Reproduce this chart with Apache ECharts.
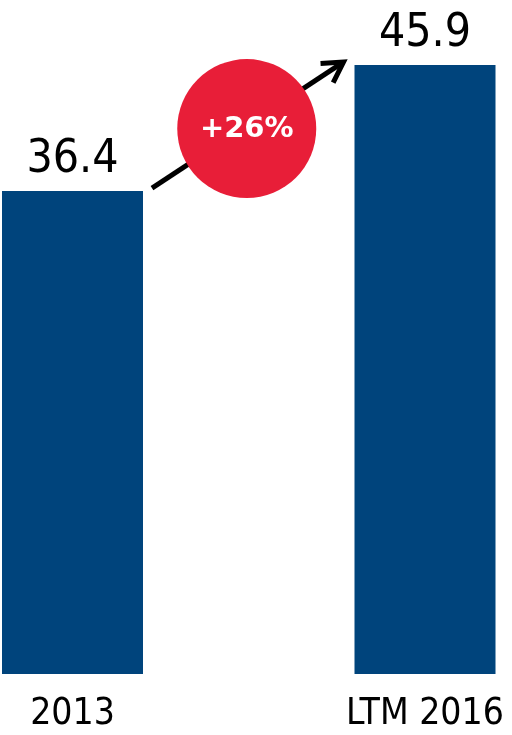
<!DOCTYPE html>
<html>
<head>
<meta charset="utf-8">
<script src="https://cdn.jsdelivr.net/npm/echarts@6/dist/echarts.min.js"></script>
<style>
html,body{margin:0;padding:0;background:#fff;}
#main{width:512px;height:735px;}
</style>
</head>
<body>
<div id="main"></div>
<script>
const categories = ['2013', 'LTM 2016'];
const values = [36.4, 45.9];
const growthLabel = '+26%';

const FONT = '"DejaVu Sans Condensed", "Liberation Sans", sans-serif';
const BAR_W = 141;

const chart = echarts.init(document.getElementById('main'), null, {renderer: 'canvas'});
chart.setOption({
  animation: false,
  backgroundColor: '#ffffff',
  grid: {left: 72.5, right: 87, top: 10.66, bottom: 61},
  xAxis: {
    type: 'category',
    data: categories,
    boundaryGap: false,
    axisLine: {show: false},
    axisTick: {show: false},
    splitLine: {show: false},
    axisLabel: {fontSize: 37, color: '#000', fontFamily: FONT, margin: 22}
  },
  yAxis: {type: 'value', min: 0, max: 50, show: false},
  series: [{
    type: 'bar',
    data: values,
    barWidth: BAR_W,
    clip: false,
    itemStyle: {color: '#00447C'},
    label: {
      show: true, position: 'top', distance: 8,
      fontSize: 46, color: '#000', fontFamily: FONT,
      formatter: p => p.value.toFixed(1)
    }
  }]
});

const p0 = chart.convertToPixel({seriesIndex: 0}, [0, values[0]]);
const p1 = chart.convertToPixel({seriesIndex: 0}, [1, values[1]]);
const sx = p0[0] + BAR_W / 2 + 9, sy = p0[1] - 3;
const ex = p1[0] - BAR_W / 2 - 11, ey = p1[1] - 3;
const ang = Math.atan2(sy - ey, sx - ex);
const L = 23, a = Math.PI / 6;
const h1 = [ex + L * Math.cos(ang + a), ey + L * Math.sin(ang + a)];
const h2 = [ex + L * Math.cos(ang - a), ey + L * Math.sin(ang - a)];
const cx = (sx + ex) / 2 - 1, cy = (sy + ey) / 2 + 3.5;

chart.setOption({
  graphic: [
    {type: 'line', shape: {x1: sx, y1: sy, x2: ex + 2 * Math.cos(ang), y2: ey + 2 * Math.sin(ang)},
     style: {stroke: '#000', lineWidth: 5}, z: 10},
    {type: 'polyline', shape: {points: [h1, [ex, ey], h2]},
     style: {stroke: '#000', lineWidth: 5, fill: null, lineJoin: 'miter'}, z: 10},
    {type: 'circle', shape: {cx: cx, cy: cy, r: 69.5}, style: {fill: '#E81E38'}, z: 20},
    {type: 'text', x: cx, y: cy + 1, z: 30,
     style: {text: growthLabel, fill: '#fff', font: 'bold 29px "DejaVu Sans", sans-serif', align: 'center', verticalAlign: 'middle'}}
  ]
});
</script>
</body>
</html>
